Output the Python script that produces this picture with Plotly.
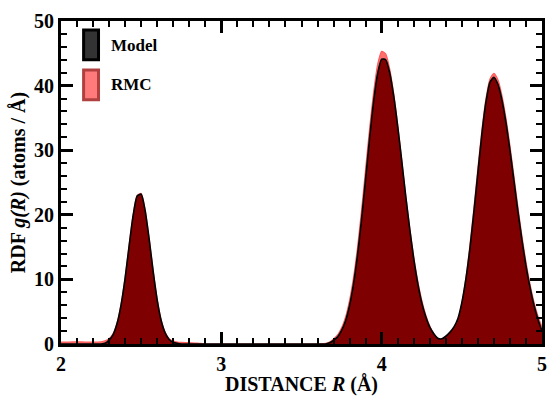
import plotly.graph_objects as go

# Distance grid (Å)
R = [2.00, 2.05, 2.10, 2.15, 2.20, 2.25, 2.275,
     2.300, 2.325, 2.350, 2.375, 2.400, 2.425, 2.450, 2.475, 2.500, 2.525, 2.550, 2.575,
     2.600, 2.625, 2.650, 2.675, 2.700,
     2.725, 2.750, 2.800, 2.850, 2.900, 3.000, 3.200, 3.400, 3.600, 3.650, 3.675,
     3.700, 3.725, 3.750, 3.775, 3.800, 3.825, 3.850, 3.875, 3.900, 3.925, 3.950, 3.975, 4.000,
     4.025, 4.050, 4.075, 4.100, 4.125, 4.150, 4.175, 4.200, 4.225, 4.250, 4.275, 4.300, 4.325, 4.350,
     4.375, 4.400, 4.425, 4.450, 4.475,
     4.500, 4.525, 4.550, 4.575, 4.600, 4.625, 4.650, 4.675, 4.700,
     4.725, 4.750, 4.775, 4.800, 4.825, 4.850, 4.875, 4.900, 4.925, 4.950, 4.975, 5.000]

model = [0, 0, 0, 0, 0, 0, 0.1,
         0.6, 1.45, 3.2, 6.1, 10.2, 15.2, 19.9, 22.9, 23.2, 20.6, 16.2, 11.2,
         6.8, 3.6, 1.7, 0.7, 0.26,
         0.1, 0, 0, 0, 0, 0, 0, 0, 0, 0, 0.2,
         0.57, 1.1, 2.1, 3.6, 6.0, 9.4, 13.9, 19.4, 25.6, 31.9, 37.6, 41.9, 44.1,
         44.0, 42.0, 38.4, 33.7, 28.4, 22.9, 17.8, 13.2, 9.4, 6.4, 4.2, 2.6, 1.6, 0.9,
         0.8, 1.2, 1.8, 2.6, 3.9,
         6.4, 10.0, 14.7, 20.4, 26.5, 32.5, 37.4, 40.5, 41.3,
         40.2, 37.8, 34.3, 30.0, 25.3, 20.5, 16.1, 12.1, 8.8, 6.0, 3.8, 2.0]

rmc = [0.3, 0.3, 0.35, 0.3, 0.3, 0.35, 0.5,
       0.8, 1.6, 3.3, 6.2, 10.3, 15.3, 20.0, 23.0, 23.3, 20.7, 16.3, 11.3,
       6.9, 3.7, 1.8, 0.8, 0.45,
       0.3, 0.25, 0.2, 0.15, 0, 0, 0, 0, 0, 0.1, 0.3,
       0.8, 1.4, 2.5, 4.2, 6.8, 10.4, 15.1, 20.8, 27.1, 33.4, 39.0, 43.3, 45.3,
       44.9, 42.6, 38.8, 33.9, 28.5, 23.0, 18.0, 13.5, 9.8, 6.8, 4.5, 2.8, 1.6, 0.8,
       0.4, 0.5, 0.9, 1.8, 3.5,
       6.3, 10.2, 15.2, 21.0, 27.2, 33.1, 37.9, 41.0, 41.9,
       40.9, 38.5, 35.0, 30.7, 26.0, 21.2, 16.7, 12.7, 9.3, 6.5, 4.3, 2.6]

x_ticks = [2, 3, 4, 5]
y_ticks = [0, 10, 20, 30, 40, 50]
series_names = ["Model", "RMC"]

FONT = "Liberation Serif"
BOLD = dict(family=FONT, color="black", weight="bold")

fig = go.Figure()
fig.add_trace(go.Scatter(x=R, y=rmc, mode="lines", name=series_names[1],
                         line=dict(color="#ff5c5c", width=1.2, shape="spline", smoothing=0.6),
                         fill="tozeroy", fillcolor="#ff6e6e", showlegend=False))
fig.add_trace(go.Scatter(x=R, y=model, mode="lines", name=series_names[0],
                         line=dict(color="black", width=1.6, shape="spline", smoothing=0.6),
                         fill="tozeroy", fillcolor="#7f0000", showlegend=False))

fig.update_xaxes(range=[2, 5], tickmode="linear", tick0=x_ticks[0], dtick=x_ticks[1] - x_ticks[0],
                 showline=True, linewidth=3, linecolor="black", mirror="ticks",
                 ticks="inside", ticklen=12, tickwidth=3, tickcolor="black",
                 tickfont=dict(size=20, **BOLD),
                 minor=dict(dtick=0.1, ticks="inside", ticklen=6, tickwidth=2, tickcolor="black"),
                 title=dict(text="DISTANCE <i>R</i> (Å)", standoff=2, font=dict(size=20, **BOLD)))
fig.update_yaxes(range=[0, 50], tickvals=y_ticks,
                 showline=True, linewidth=3, linecolor="black", mirror="ticks",
                 ticks="inside", ticklen=12, tickwidth=3, tickcolor="black",
                 tickfont=dict(size=20, **BOLD),
                 minor=dict(dtick=2, ticks="inside", ticklen=6, tickwidth=2, tickcolor="black"),
                 title=dict(text="RDF <i>g(R)</i> (atoms / Å)", standoff=4, font=dict(size=20, **BOLD)))

# legend (custom)
fig.add_shape(type="rect", xref="paper", yref="paper", x0=0.047, x1=0.078, y0=0.880, y1=0.972,
              fillcolor="#333333", line=dict(color="black", width=3), layer="above")
fig.add_shape(type="rect", xref="paper", yref="paper", x0=0.047, x1=0.078, y0=0.756, y1=0.848,
              fillcolor="#ff7b7b", line=dict(color="#b04040", width=3), layer="above")
fig.add_annotation(xref="paper", yref="paper", x=0.099, y=0.925, xanchor="left", yanchor="middle",
                   text=series_names[0], showarrow=False, font=dict(size=17, **BOLD))
fig.add_annotation(xref="paper", yref="paper", x=0.099, y=0.804, xanchor="left", yanchor="middle",
                   text=series_names[1], showarrow=False, font=dict(size=17, **BOLD))

fig.update_layout(width=550, height=396, margin=dict(l=61, r=3, t=21, b=52),
                  plot_bgcolor="white", paper_bgcolor="white")

fig.write_html("out.html")
